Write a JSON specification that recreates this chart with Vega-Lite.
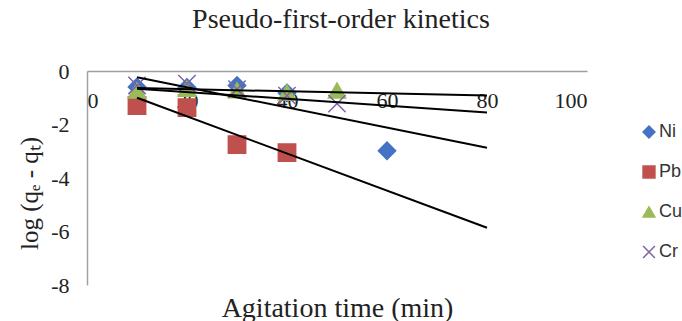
{
  "$schema": "https://vega.github.io/schema/vega-lite/v6.json",
  "width": 500,
  "height": 214,
  "autosize": "none",
  "padding": {"left": 87, "top": 71, "right": 95, "bottom": 36},
  "background": "white",
  "config": {
    "view": {"stroke": null},
    "axis": {"grid": false, "ticks": false, "domainColor": "#a0a0a0", "domainWidth": 1.5, "labelFont": "Liberation Serif", "labelFontSize": 22, "labelColor": "#222", "titleFont": "Liberation Serif", "titleFontSize": 28, "titleFontWeight": "normal", "titleColor": "#222", "labelExpr": "replace(datum.label, '−', '-')"},
    "legend": {"orient": "none", "legendX": 553, "legendY": 52, "labelFont": "Liberation Sans", "labelFontSize": 18, "labelColor": "#333", "symbolSize": 140, "rowPadding": 22, "labelOffset": 1, "symbolStrokeWidth": 1.5}
  },
  "title": {"text": "Pseudo-first-order kinetics", "font": "Liberation Serif", "fontSize": 28, "fontWeight": "normal", "color": "#222", "offset": 26, "dx": 4},
  "datasets": {
    "obs": [
      {"metal": "Ni", "time": 10, "logq": -0.6},
      {"metal": "Ni", "time": 20, "logq": -0.62},
      {"metal": "Ni", "time": 30, "logq": -0.54},
      {"metal": "Ni", "time": 40, "logq": -0.82},
      {"metal": "Ni", "time": 60, "logq": -2.98},
      {"metal": "Pb", "time": 10, "logq": -1.29},
      {"metal": "Pb", "time": 20, "logq": -1.37},
      {"metal": "Pb", "time": 30, "logq": -2.75},
      {"metal": "Pb", "time": 40, "logq": -3.05},
      {"metal": "Cu", "time": 10, "logq": -0.73},
      {"metal": "Cu", "time": 20, "logq": -0.66},
      {"metal": "Cu", "time": 30, "logq": -0.72},
      {"metal": "Cu", "time": 40, "logq": -0.8},
      {"metal": "Cu", "time": 50, "logq": -0.73},
      {"metal": "Cr", "time": 10, "logq": -0.54},
      {"metal": "Cr", "time": 20, "logq": -0.47},
      {"metal": "Cr", "time": 30, "logq": -0.68},
      {"metal": "Cr", "time": 40, "logq": -0.92},
      {"metal": "Cr", "time": 50, "logq": -1.22}
    ],
    "fit": [
      {"metal": "Ni", "time": 10, "logq": -0.23},
      {"metal": "Ni", "time": 80, "logq": -2.87},
      {"metal": "Pb", "time": 10, "logq": -1.0},
      {"metal": "Pb", "time": 80, "logq": -5.86},
      {"metal": "Cu", "time": 10, "logq": -0.64},
      {"metal": "Cu", "time": 80, "logq": -0.92},
      {"metal": "Cr", "time": 10, "logq": -0.66},
      {"metal": "Cr", "time": 80, "logq": -1.55}
    ]
  },
  "layer": [
    {
      "data": {"name": "obs"},
      "mark": {"type": "point", "filled": true, "opacity": 1, "strokeWidth": 1.5},
      "encoding": {
        "x": {"field": "time", "type": "quantitative", "scale": {"domain": [0, 100]}, "axis": {"orient": "bottom", "offset": -214, "values": [0, 20, 40, 60, 80, 100], "labelPadding": 19, "labelBaseline": "top", "title": "Agitation time (min)", "titleY": 237, "titleBaseline": "middle"}},
        "y": {"field": "logq", "type": "quantitative", "scale": {"domain": [-8, 0]}, "axis": {"values": [-8, -6, -4, -2, 0], "labelPadding": 18, "title": "log (qₑ - qₜ)", "titleFontSize": 25, "titlePadding": 8, "titleY": 122}},
        "color": {"field": "metal", "type": "nominal", "scale": {"domain": ["Ni", "Pb", "Cu", "Cr"], "range": ["#4472C4", "#C0504D", "#9BBB59", "#8064A2"]}, "title": null},
        "stroke": {"field": "metal", "type": "nominal", "scale": {"domain": ["Ni", "Pb", "Cu", "Cr"], "range": ["#4472C4", "#C0504D", "#9BBB59", "#8064A2"]}, "title": null},
        "shape": {"field": "metal", "type": "nominal", "scale": {"domain": ["Ni", "Pb", "Cu", "Cr"], "range": ["diamond", "square", "triangle-up", "M-1,-1L1,1M-1,1L1,-1"]}, "title": null},
        "size": {"value": 300}
      }
    },
    {
      "data": {"name": "fit"},
      "mark": {"type": "line", "color": "black", "strokeWidth": 2},
      "encoding": {
        "x": {"field": "time", "type": "quantitative"},
        "y": {"field": "logq", "type": "quantitative"},
        "detail": {"field": "metal", "type": "nominal"}
      }
    }
  ]
}
